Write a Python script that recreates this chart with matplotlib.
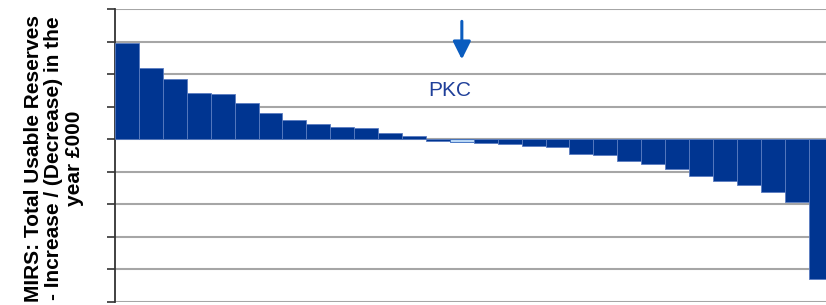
import numpy as np
import matplotlib
matplotlib.use("Agg")
import matplotlib.pyplot as plt

# change in usable reserves per council, sorted (units of one gridline)
values = [2.95, 2.18, 1.85, 1.43, 1.39, 1.11, 0.80, 0.60, 0.46, 0.38,
          0.33, 0.17, 0.08, -0.07, -0.09, -0.13, -0.15, -0.21, -0.25, -0.45,
          -0.48, -0.68, -0.78, -0.91, -1.15, -1.28, -1.41, -1.63, -1.95, -4.30]
highlight = 14  # PKC
highlight_label = "PKC"
ylabel = "MIRS: Total Usable Reserves\n- Increase / (Decrease) in the\nyear £000"

plt.rcParams['font.family'] = ['Liberation Sans', 'DejaVu Sans']

fig = plt.figure(figsize=(8.26, 3.05), dpi=100)
ax = fig.add_axes([115 / 826, 3.5 / 305, 711 / 826, 292.5 / 305])

x = np.arange(len(values))
colors = ['#003591'] * len(values)
colors[highlight] = '#b8d6f5'
edges = ['#5a7cc0'] * len(values)
edges[highlight] = '#3366bb'
ax.bar(x, values, width=1.0, color=colors, edgecolor=edges, linewidth=0.6, zorder=3)

ax.set_xlim(-0.5, -0.5 + 711 / 23.92)
ax.set_ylim(-5, 4)
ax.set_yticks(np.arange(-5, 5, 1))
ax.set_yticklabels([])
ax.set_xticks([])
ax.grid(axis='y', color='#a6a6a6', linewidth=1.5, zorder=0)
for s in ['top', 'right', 'bottom']:
    ax.spines[s].set_visible(False)
ax.spines['left'].set_color('#333333')
ax.spines['left'].set_linewidth(1.3)
ax.tick_params(axis='y', direction='out', length=6, width=1.2, color='#333333')

# arrow and label pointing at PKC
ax.annotate('', xy=(highlight, 2.45), xytext=(highlight, 3.62),
            arrowprops=dict(arrowstyle='-|>', color='#0a5cbf', lw=2.2,
                            mutation_scale=27, shrinkA=0, shrinkB=0), zorder=4)
ax.text(highlight - 0.5, 1.5, highlight_label, color='#1f3f99', fontsize=15,
        ha='center', va='center', zorder=4)

fig.text(54 / 826, 1 - 158 / 305, ylabel, rotation=90, ha='center', va='center',
         multialignment='center', fontsize=15, fontweight='bold', linespacing=1.13)

fig.savefig('out.png', dpi=100)
